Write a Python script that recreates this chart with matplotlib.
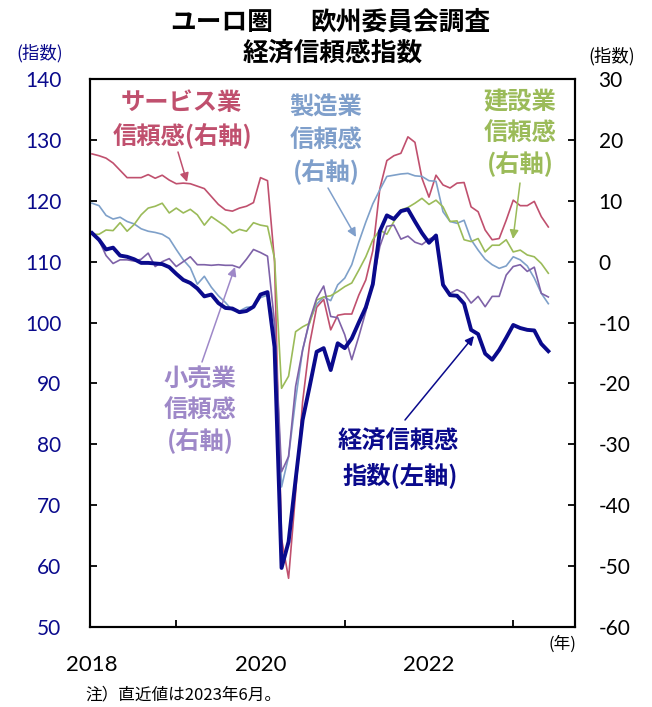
import numpy as np
import matplotlib
matplotlib.use("Agg")
import matplotlib.pyplot as plt

plt.rcParams['font.family'] = ['Lato', 'Noto Sans CJK JP', 'DejaVu Sans']
JP = ['Noto Sans CJK JP', 'DejaVu Sans']

# ---------------- data (monthly, Jan 2018 - Jun 2023) ----------------
years = ['2018', '2020', '2022']

esi = [114.7, 113.6, 112.0, 112.3, 111.0, 110.8, 110.4, 109.8, 109.8, 109.7, 109.6, 109.1,
       108.0, 107.0, 106.5, 105.6, 104.3, 104.6, 103.2, 102.4, 102.3, 101.7, 101.9, 102.6,
       104.6, 105.0, 96.0, 59.7, 64.0, 74.2, 84.0, 89.5, 95.2, 95.8, 92.2, 96.6,
       95.8, 97.4, 100.0, 102.5, 106.3, 115.0, 117.6, 117.0, 118.3, 118.6, 116.6, 114.7,
       113.1, 114.3, 106.2, 104.5, 104.4, 103.1, 98.8, 98.1, 94.9, 93.9, 95.5, 97.5,
       99.6, 99.1, 98.8, 98.7, 96.5, 95.3]

services = [17.7, 17.4, 17.0, 16.2, 15.0, 13.8, 13.8, 13.8, 14.3, 13.7, 14.2, 13.4,
            12.8, 12.9, 12.8, 12.4, 12.0, 10.7, 9.4, 8.5, 8.3, 8.8, 9.1, 9.7,
            13.8, 13.3, 0.0, -45.5, -52.0, -38.0, -23.0, -13.5, -7.5, -6.2, -11.2, -8.8,
            -8.6, -8.6, -5.5, -3.0, 1.8, 12.0, 16.6, 17.4, 17.8, 20.5, 19.6, 13.7,
            10.6, 14.2, 12.6, 12.1, 12.9, 13.0, 9.0, 8.2, 5.2, 3.6, 3.8, 6.8,
            10.1, 9.2, 9.2, 9.9, 7.4, 5.7]

industry = [9.6, 9.2, 7.6, 7.0, 7.3, 6.6, 6.2, 5.4, 5.0, 4.8, 4.5, 3.8,
            2.0, 0.3, -1.0, -3.7, -2.4, -4.2, -5.6, -6.7, -8.0, -8.1, -7.5, -7.4,
            -5.9, -5.5, -10.0, -37.0, -32.0, -22.7, -14.5, -9.8, -7.0, -5.8, -6.4, -3.8,
            -2.7, -0.5, 3.2, 6.5, 9.5, 11.8, 14.0, 14.2, 14.4, 14.5, 14.1, 14.0,
            13.3, 13.2, 8.2, 6.6, 6.3, 6.8, 3.6, 1.9, 0.4, -0.5, -1.1, -0.7,
            0.8, 0.3, -0.7, -2.7, -5.2, -6.9]

construction = [4.5, 4.5, 5.2, 5.1, 6.4, 5.0, 6.1, 7.7, 8.8, 9.1, 9.6, 8.0,
                8.8, 8.0, 8.6, 7.7, 6.0, 7.4, 6.6, 5.8, 4.7, 5.3, 5.0, 6.4,
                6.0, 5.8, 0.5, -20.8, -18.8, -11.5, -10.7, -10.1, -6.3, -5.8, -5.6, -4.9,
                -4.1, -3.5, -1.4, 0.8, 3.6, 5.2, 4.5, 6.6, 8.5, 8.9, 9.6, 10.4,
                9.4, 10.1, 9.0, 6.6, 6.7, 3.6, 3.3, 3.8, 1.6, 2.7, 2.7, 3.6,
                1.6, 1.9, 1.1, 0.8, -0.3, -1.9]

retail = [4.6, 3.5, 1.0, -0.3, 0.3, 0.3, 0.1, 0.4, 1.4, -0.8, 0.0, 0.5,
          -0.8, 0.0, 0.8, -0.5, -0.5, -0.6, -0.5, -0.6, -0.6, -1.0, 0.4, 2.0,
          1.5, 0.9, -10.0, -34.5, -32.0, -20.5, -14.5, -9.6, -6.0, -4.0, -9.0, -9.2,
          -12.0, -16.1, -12.3, -8.2, -3.5, 2.5, 5.8, 6.0, 3.7, 4.2, 3.2, 2.8,
          3.7, 4.2, -3.8, -5.2, -4.6, -5.2, -6.8, -5.7, -7.4, -5.7, -5.7, -2.2,
          -0.8, -0.5, -1.6, -0.9, -5.2, -5.8]

left_ticks = [50, 60, 70, 80, 90, 100, 110, 120, 130, 140]
right_ticks = [-60, -50, -40, -30, -20, -10, 0, 10, 20, 30]

# ---------------- style ----------------
C_ESI = '#0A0A8C'
C_SRV = '#C0506E'
C_IND = '#7EA0C9'
C_CON = '#9BBB59'
C_RET = '#7E62A8'
C_RET_T = '#9E88C8'
C_IND_T = '#7F9FCB'

W, H = 652, 707
fig = plt.figure(figsize=(W / 100, H / 100), dpi=100)
ax = fig.add_axes([90.4 / W, 1 - 627 / H, (575 - 90.4) / W, (627 - 79) / H])
ax2 = ax.twinx()

x = np.arange(len(esi))
ax2.plot(x, services, color=C_SRV, lw=1.2)
ax2.plot(x, industry, color=C_IND, lw=1.2)
ax2.plot(x, construction, color=C_CON, lw=1.2)
ax2.plot(x, retail, color=C_RET, lw=1.2)
ax.plot(x, esi, color=C_ESI, lw=2.8, solid_joinstyle='round')

ax.set_zorder(ax2.get_zorder() + 1)
ax.patch.set_visible(False)

ax.set_xlim(-0.23, 68.8)
ax.set_ylim(50, 140)
ax2.set_ylim(-60, 30)
ax.set_yticks(left_ticks)
ax2.set_yticks(right_ticks)
ax.set_yticklabels([str(v) for v in left_ticks])
ax2.set_yticklabels([str(v) for v in right_ticks])

ax.set_xticks([0, 24, 48])
ax.set_xticklabels(years)
ax.set_xticks([12, 24, 36, 48, 60], minor=True)
ax.tick_params(axis='x', which='major', length=0, pad=20, labelsize=16, labelcolor='black')
ax.tick_params(axis='x', which='minor', direction='in', length=5, width=1.3, color='black')
ax.tick_params(axis='y', direction='in', length=5, width=1.3, pad=21, labelsize=15,
               labelcolor=C_ESI)
ax2.tick_params(axis='y', direction='in', length=5, width=1.3, pad=17, labelsize=15,
                labelcolor='black')
for a in (ax, ax2):
    for s in a.spines.values():
        s.set_linewidth(1.5)
        s.set_color('black')


def px(xp, yp):
    return (xp / W, 1 - yp / H)


def ftext(xp, yp, s, **kw):
    fig.text(*px(xp, yp), s, ha=kw.pop('ha', 'center'), va=kw.pop('va', 'center'),
             family=JP, **kw)


def arrow(x0, y0, x1, y1, color):
    fig.add_artist(matplotlib.patches.FancyArrowPatch(
        px(x0, y0), px(x1, y1), transform=fig.transFigure,
        arrowstyle='-|>', mutation_scale=13, color=color, lw=1.1,
        shrinkA=0, shrinkB=0))


# title
ftext(222, 22, 'ユーロ圏', fontsize=18.5, weight='bold', color='black')
ftext(400, 22, '欧州委員会調査', fontsize=18.5, weight='bold', color='black')
ftext(333, 53, '経済信頼感指数', fontsize=18.5, weight='bold', color='black')

# axis unit labels
ftext(40, 53, '(指数)', fontsize=12.5, color=C_ESI)
ftext(612, 56, '(指数)', fontsize=12.5, color='black')
ftext(562, 644, '(年)', fontsize=12, color='black')

# footnote
ftext(85, 695, '注）直近値は2023年6月。', fontsize=12, color='black', ha='left')

# series annotations
ftext(181, 103, 'サービス業', fontsize=17.5, weight='bold', color=C_SRV)
ftext(183, 135, '信頼感(右軸)', fontsize=17.5, weight='bold', color=C_SRV)
arrow(178, 152, 187, 182, C_SRV)

ftext(326, 108, '製造業', fontsize=17.5, weight='bold', color=C_IND_T)
ftext(326, 140, '信頼感', fontsize=17.5, weight='bold', color=C_IND_T)
ftext(326, 171, '(右軸)', fontsize=17.5, weight='bold', color=C_IND_T)
arrow(328, 188, 356, 237, C_IND_T)

ftext(520, 102, '建設業', fontsize=17.5, weight='bold', color=C_CON)
ftext(520, 133, '信頼感', fontsize=17.5, weight='bold', color=C_CON)
ftext(520, 163, '(右軸)', fontsize=17.5, weight='bold', color=C_CON)
arrow(520, 183, 513, 239, C_CON)

ftext(200, 380, '小売業', fontsize=17.5, weight='bold', color=C_RET_T)
ftext(200, 410, '信頼感', fontsize=17.5, weight='bold', color=C_RET_T)
ftext(200, 440, '(右軸)', fontsize=17.5, weight='bold', color=C_RET_T)
arrow(202, 362, 235, 267, C_RET_T)

ftext(398, 442, '経済信頼感', fontsize=17.5, weight='bold', color=C_ESI)
ftext(400, 475, '指数(左軸)', fontsize=17.5, weight='bold', color=C_ESI)
arrow(405, 420, 474, 336, C_ESI)

fig.savefig('out.png', dpi=100)
